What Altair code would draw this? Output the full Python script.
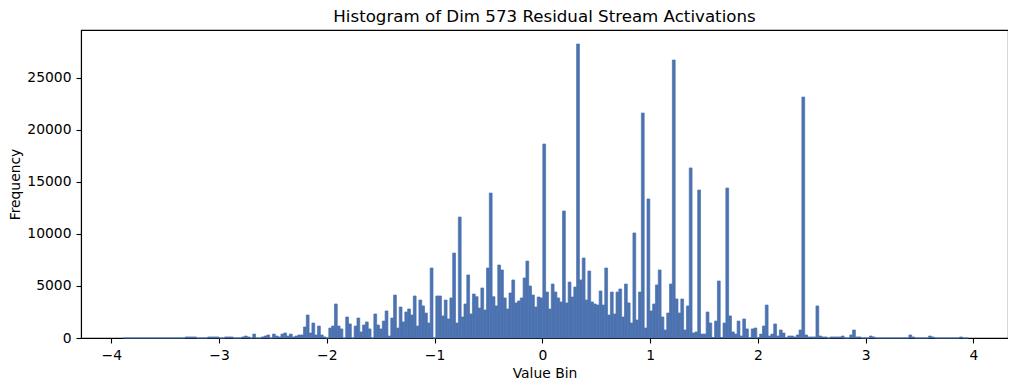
import altair as alt
import numpy as np
import pandas as pd

# Histogram settings (300 bins spanning the data range)
bin_min = -3.889
bin_max = 3.951
n_bins = 300

# Bin counts, left to right
counts = (
    [0] * 22
    + [100, 100, 100, 100, 0, 0, 0, 0, 100, 100, 100, 100, 0, 0, 100, 100, 100, 0, 0, 0,
       100, 190, 100, 0, 380, 0, 0, 100]
    + [190, 290, 0, 380, 190, 100, 380, 480, 190, 380, 100, 190, 290, 290, 1060, 2210,
       480, 1440, 290, 1150, 290, 100, 0, 960, 1150, 3270, 1150, 870, 0, 2020]
    + [1350, 0, 1150, 1920, 580, 1250, 1540, 870, 0, 2310, 1250, 870, 1630, 2600, 190,
       1920, 4130, 960, 2980, 1540, 2500, 2790, 2210, 4040, 1150, 3650, 3080, 2400, 1440, 6730]
    + [0, 4040, 4040, 2120, 3650, 1830, 3850, 8170, 1440, 11630, 2020, 3270, 6060, 2310,
       4230, 3970, 2880, 4810, 2690, 6730, 13940, 3970, 3080, 7020, 6540, 3850, 2790, 4330,
       5580, 3370]
    + [3560, 3850, 5770, 7400, 5000, 4130, 2980, 3940, 3850, 18650, 4420, 2790, 5190, 4420,
       3850, 3460, 12210, 3370, 5380, 3940, 4900, 28270, 5580, 7690, 3650, 6440, 3460, 3270,
       3170, 4520]
    + [3170, 6730, 2210, 4420, 2310, 4420, 4710, 2020, 5190, 3370, 1440, 10100, 1730, 4420,
       21630, 960, 13370, 2600, 3270, 5100, 6540, 2020, 770, 2400, 5190, 26730, 3750, 2400,
       3750, 770]
    + [3080, 16350, 480, 580, 14230, 380, 380, 2500, 1440, 50, 1630, 5480, 50, 1440, 14420,
       2120, 580, 380, 1630, 190, 1830, 870, 30, 870, 960, 30, 380, 1150, 3170, 190]
    + [380, 1350, 190, 770, 480, 30, 190, 190, 100, 290, 770, 23170, 290, 100, 100, 100,
       3080, 190, 100, 100, 0, 100, 100, 100, 100, 190, 0, 0, 290, 770]
    + [100, 100, 0, 0, 0, 190, 100, 0, 0, 0, 0, 0, 0, 0, 0, 0, 0, 0, 0, 290, 100, 0, 0, 0,
       0, 0, 190, 100, 0, 0, 0, 0, 0, 0, 0, 0, 0, 100, 0, 0]
)

x_ticks = [-4, -3, -2, -1, 0, 1, 2, 3, 4]
y_ticks = [0, 5000, 10000, 15000, 20000, 25000]

edges = np.linspace(bin_min, bin_max, n_bins + 1)
df = pd.DataFrame({"start": edges[:-1], "end": edges[1:], "count": counts})

FONT = "DejaVu Sans"
BLUE = "#4C72B0"

chart = (
    alt.Chart(df)
    .mark_rect(color=BLUE, stroke=BLUE, strokeWidth=0.7)
    .encode(
        x=alt.X(
            "start:Q",
            scale=alt.Scale(domain=[-4.281, 4.322], nice=False, zero=False),
            axis=alt.Axis(
                values=x_ticks, format="d", title="Value Bin", grid=False,
                tickSize=5, labelPadding=5, titlePadding=5,
            ),
        ),
        x2="end:Q",
        y=alt.Y(
            "count:Q",
            scale=alt.Scale(domain=[0, 29615], nice=False),
            axis=alt.Axis(
                values=y_ticks, format="d", title="Frequency", grid=False,
                tickSize=5, labelPadding=5, titlePadding=4,
            ),
        ),
        y2=alt.datum(0),
    )
    .properties(
        width=927,
        height=308,
        title=alt.TitleParams(
            "Histogram of Dim 573 Residual Stream Activations",
            font=FONT, fontSize=16.67, fontWeight="normal", color="black",
            anchor="middle", offset=4,
        ),
        padding={"left": 73, "top": 22, "right": 0, "bottom": 42},
        autosize=alt.AutoSizeParams(type="none"),
    )
    .configure_view(stroke="black", strokeWidth=1.1)
    .configure_axis(
        labelFont=FONT, labelFontSize=13.89, labelColor="black",
        titleFont=FONT, titleFontSize=13.89, titleColor="black", titleFontWeight="normal",
        domainColor="black", domainWidth=1.1, tickColor="black", tickWidth=1.1,
    )
)

chart.save("out.html", embed_options={"renderer": "svg", "actions": False})
